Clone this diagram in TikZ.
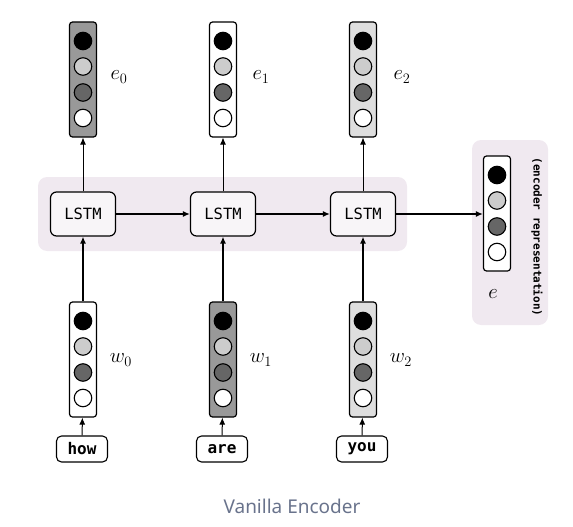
\documentclass[tikz,border=0pt]{standalone}
\usepackage{amsmath,amssymb}
\usepackage{fontspec}
\setmonofont{DejaVu Sans Mono}
\setsansfont{Noto Sans}
\usetikzlibrary{arrows.meta,positioning}

\definecolor{bandcol}{RGB}{240,233,240}
\definecolor{lstmcol}{RGB}{248,245,248}
\definecolor{capcol}{RGB}{105,115,140}

\tikzset{
	vecbox/.style={draw,rounded corners=3pt,line width=1.2pt,minimum width=27pt,minimum height=115pt,inner sep=0pt},
	unit/.style={circle,draw,line width=1.1pt,minimum size=17.5pt,inner sep=0pt},
	lstm/.style={draw,rounded corners=6pt,line width=1.2pt,fill=lstmcol,minimum width=65pt,minimum height=44pt,font=\fontsize{15.5}{15.5}\ttfamily},
	word/.style={draw,rounded corners=5pt,line width=1.1pt,fill=white,minimum width=51pt,minimum height=26pt,font=\fontsize{16}{16}\ttfamily\bfseries},
	lbl/.style={font=\fontsize{22}{22}\selectfont},
	arr/.style={-{Latex[length=7pt,width=6pt]},line width=1pt},
}

% one vector: name, position, fill of the box
\newcommand{\embvec}[3]{
	\node[vecbox,fill=#3] (#1) at (#2) {};
	\foreach \c/\dy/\k in {black/38.5/a,black!20/13/b,black!60/-13/c,white/-38.5/d}
		\node[unit,fill=\c] (#1\k) at ([yshift=\dy pt]#1.center) {};
}

\begin{document}
\begin{tikzpicture}[x=1pt,y=-1pt]
			\useasboundingbox (0,0) rectangle (573,527);

			% Backgrounds
			\fill[bandcol,rounded corners=9pt] (38,177) rectangle (407,251);
			\fill[bandcol,rounded corners=9pt] (472,140) rectangle (548,325);

			% Cells
			\node[lstm] (L0) at (83,214) {LSTM};
			\node[lstm] (L1) at (223,214) {LSTM};
			\node[lstm] (L2) at (363,214) {LSTM};

			% Outputs
			\embvec{E0}{83,79.5}{black!40}
			\embvec{E1}{223,79.5}{white}
			\embvec{E2}{363,79.5}{black!13}
			\node[lbl] (le0) at (119,77) {$e_0$};
			\node[lbl] (le1) at (261,77) {$e_1$};
			\node[lbl] (le2) at (402,77) {$e_2$};

			% Inputs
			\embvec{W0}{83,359.5}{white}
			\embvec{W1}{223,359.5}{black!40}
			\embvec{W2}{363,359.5}{black!13}
			\node[lbl] (lw0) at (121,360) {$w_0$};
			\node[lbl] (lw1) at (261,360) {$w_1$};
			\node[lbl] (lw2) at (401,360) {$w_2$};

			% Words
			\node[word] (how) at (82,449) {how};
			\node[word] (are) at (222,449) {are};
			\node[word] (you) at (362,449) {you};

			% Encoder representation
			\embvec{E}{497,213.5}{white}
			\node[lbl] (le) at (493,294) {$e$};
			\node[rotate=-90,font=\fontsize{11}{11}\ttfamily\bfseries] (rep) at (537,237) {(encoder representation)};

			% Edges
			\draw[arr] (how) -- (W0);
			\draw[arr] (are) -- (W1);
			\draw[arr] (you) -- (W2);
			\draw[arr,line width=1.8pt] (W0) -- (L0);
			\draw[arr,line width=1.8pt] (W1) -- (L1);
			\draw[arr,line width=1.8pt] (W2) -- (L2);
			\draw[arr,line width=0.8pt] (L0) -- (E0);
			\draw[arr,line width=0.8pt] (L1) -- (E1);
			\draw[arr,line width=0.8pt] (L2) -- (E2);
			\draw[arr,line width=1.5pt] (L0) -- (L1);
			\draw[arr,line width=1.5pt] (L1) -- (L2);
			\draw[arr,line width=1.5pt] (L2.east) -- (L2.east -| E.west);

			% Caption
			\node[font=\sffamily\fontsize{19}{19}\selectfont,text=capcol] (cap) at (292,506) {Vanilla Encoder};

		\end{tikzpicture}
\end{document}
